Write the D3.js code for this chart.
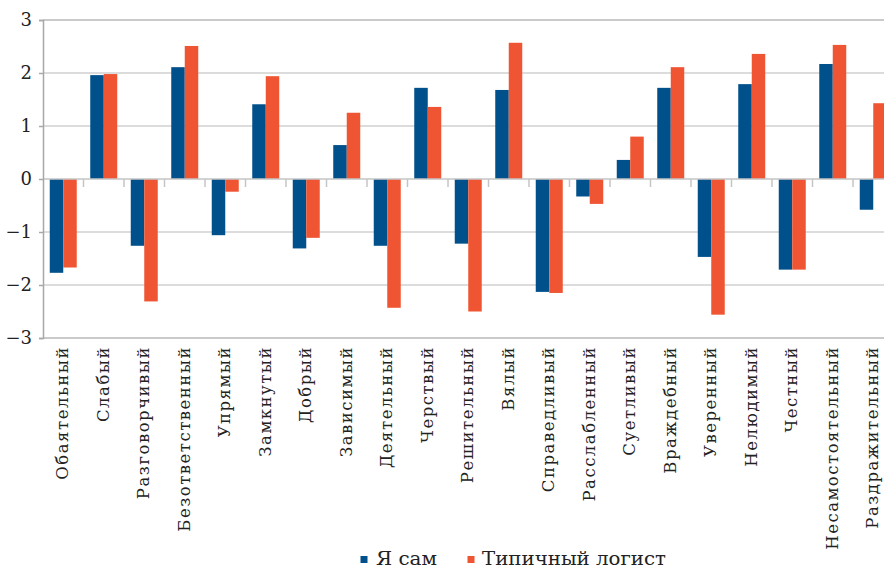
<!DOCTYPE html>
<html lang="ru">
<head>
<meta charset="utf-8">
<title>Я сам / Типичный логист</title>
<script src="https://cdn.jsdelivr.net/npm/d3@7"></script>
<style>
  body { margin: 0; background: #fff; }
  svg { display: block; }
</style>
</head>
<body>
<script>
// данные
var categories = ["Обаятельный", "Слабый", "Разговорчивый", "Безответственный", "Упрямый",
  "Замкнутый", "Добрый", "Зависимый", "Деятельный", "Черствый", "Решительный", "Вялый",
  "Справедливый", "Расслабленный", "Суетливый", "Враждебный", "Уверенный", "Нелюдимый",
  "Честный", "Несамостоятельный", "Раздражительный"];
var selfValues = [-1.77, 1.96, -1.26, 2.11, -1.06, 1.41, -1.31, 0.64, -1.26, 1.72, -1.22,
  1.68, -2.13, -0.33, 0.36, 1.72, -1.47, 1.79, -1.71, 2.17, -0.58];
var typicalValues = [-1.67, 1.98, -2.31, 2.51, -0.24, 1.94, -1.11, 1.25, -2.43, 1.36, -2.50,
  2.57, -2.15, -0.47, 0.80, 2.11, -2.56, 2.36, -1.71, 2.53, 1.43];
var seriesNames = ["Я сам", "Типичный логист"];
var colors = ["#00508b", "#f05533"];
var yTicks = [-3, -2, -1, 0, 1, 2, 3];

var width = 884, height = 568;
var marginLeft = 43, plotW = 850.5, plotTop = 20, plotBottom = 338;
var serif = "DejaVu Serif";

var svg = d3.select("body").append("svg")
  .attr("width", width).attr("height", height);

var x = d3.scaleBand().domain(categories).range([marginLeft, marginLeft + plotW]);
var xs = d3.scaleBand().domain([0, 1]).range([0, x.bandwidth()]).paddingOuter(0.5);
var y = d3.scaleLinear().domain([-3, 3]).range([plotBottom, plotTop]);

// сетка
svg.append("g").selectAll("line")
  .data(yTicks.filter(d => d !== 0))
  .enter().append("line")
  .attr("x1", marginLeft).attr("x2", width)
  .attr("y1", d => y(d)).attr("y2", d => y(d))
  .attr("stroke", d => d === 3 || d === -3 ? "#b8b8b8" : "#d0d0d0")
  .attr("stroke-width", 1.5);

// столбики
var rows = categories.map((c, i) => ({ cat: c, vals: [selfValues[i], typicalValues[i]] }));
var grp = svg.append("g").selectAll("g")
  .data(rows)
  .enter().append("g")
  .attr("transform", d => `translate(${x(d.cat)},0)`);

grp.selectAll("rect")
  .data(d => d.vals.map((v, k) => ({ k: k, v: v })))
  .enter().append("rect")
  .attr("x", d => xs(d.k))
  .attr("width", xs.bandwidth())
  .attr("y", d => y(Math.max(0, d.v)))
  .attr("height", d => Math.abs(y(d.v) - y(0)))
  .attr("fill", d => colors[d.k]);

// нулевая линия и засечки
svg.append("line")
  .attr("x1", marginLeft).attr("x2", width)
  .attr("y1", y(0)).attr("y2", y(0))
  .attr("stroke", "#c4c4c4").attr("stroke-width", 1.5);

svg.append("g").selectAll("line")
  .data(categories.slice(1))
  .enter().append("line")
  .attr("x1", d => x(d)).attr("x2", d => x(d))
  .attr("y1", y(0)).attr("y2", y(0) + 8)
  .attr("stroke", "#c4c4c4").attr("stroke-width", 1.5);

// ось Y
var yAxis = svg.append("g")
  .attr("transform", `translate(${marginLeft},0)`)
  .call(d3.axisLeft(y).tickValues(yTicks).tickSize(4).tickPadding(7)
    .tickFormat(d => d < 0 ? "\u2212" + Math.abs(d) : d));
yAxis.select(".domain").attr("stroke", "#a8a8a8").attr("stroke-width", 1.5);
yAxis.selectAll(".tick line").attr("stroke", "#a8a8a8").attr("stroke-width", 1.5);
yAxis.selectAll("text")
  .attr("font-family", serif)
  .attr("font-size", 18).attr("fill", "#222");

// подписи категорий
svg.append("g").selectAll("text")
  .data(categories)
  .enter().append("text")
  .attr("transform", d => `translate(${x(d) + x.bandwidth() / 2 + 5},${plotBottom + 8}) rotate(-90)`)
  .attr("text-anchor", "end")
  .attr("font-family", serif)
  .attr("font-size", 16.5)
  .attr("letter-spacing", 1.5)
  .attr("fill", "#222")
  .text(d => d);

// легенда
var legend = svg.append("g").attr("transform", "translate(360,565)");
var items = [{ x: 0.5, tx: 16, w: 61 }, { x: 107.5, tx: 122, w: 184 }];
items.forEach((it, k) => {
  legend.append("rect").attr("x", it.x).attr("y", -9).attr("width", 7).attr("height", 7)
    .attr("fill", colors[k]);
  legend.append("text").attr("x", it.tx).attr("y", 0)
    .attr("font-family", serif)
    .attr("font-size", 18).attr("fill", "#222")
    .attr("textLength", it.w).attr("lengthAdjust", "spacingAndGlyphs")
    .text(seriesNames[k]);
});
</script>
</body>
</html>
